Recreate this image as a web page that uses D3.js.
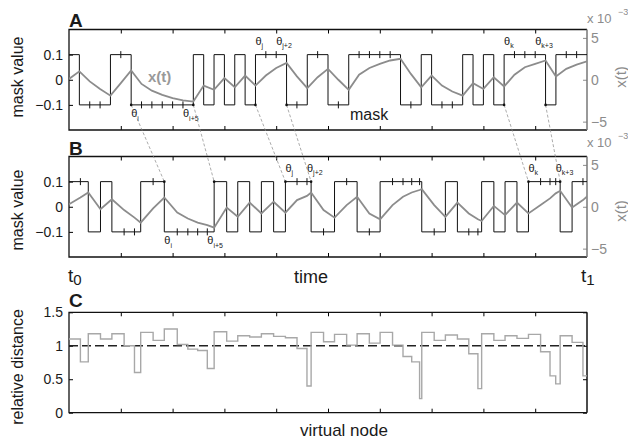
<!DOCTYPE html>
<html>
<head>
<meta charset="utf-8">
<script src="https://cdn.jsdelivr.net/npm/d3@7"></script>
<style>
body { margin: 0; background: #fff; }
text { font-family: "Liberation Sans", Arial, sans-serif; }
</style>
</head>
<body>
<div id="container"></div>
<script>
// mask values per virtual node, panel A (50 nodes)
let maskA = [0.1,-0.1,-0.1,-0.1,0.1,0.1,-0.1,-0.1,-0.1,-0.1,-0.1,-0.1,0.1,-0.1,0.1,-0.1,0.1,-0.1,0.1,0.1,
             0.1,-0.1,-0.1,0.1,0.1,-0.1,-0.1,0.1,0.1,0.1,0.1,0.1,-0.1,-0.1,0.1,-0.1,-0.1,-0.1,0.1,-0.1,
             0.1,-0.1,0.1,0.1,0.1,0.1,-0.1,0.1,0.1,0.1];
// x(t) at node boundaries, panel A (x 10^-3)
let xtA = [0.1,1.0,-0.2,-1.1,-1.9,-0.4,1.1,-0.5,-1.3,-1.8,-2.2,-2.45,-2.6,-0.7,-1.2,0.2,-0.9,0.5,-0.7,0.5,
           1.4,2.0,0.4,-1.0,0.3,1.3,0.0,-1.2,0.6,1.4,1.9,2.3,2.5,0.7,-0.9,0.5,-0.7,-1.4,-1.9,-0.4,
           -1.1,0.3,-0.8,0.6,1.5,1.9,2.3,0.4,1.3,1.8,2.2];
// mask values per virtual node, panel B (51 nodes, last one cut at t1)
let maskB = [0.1,0.1,-0.1,0.1,-0.1,-0.1,-0.1,0.1,0.1,-0.1,-0.1,-0.1,-0.1,-0.1,0.1,-0.1,0.1,-0.1,0.1,-0.1,
             0.1,0.1,0.1,-0.1,-0.1,0.1,0.1,-0.1,-0.1,0.1,0.1,0.1,0.1,0.1,-0.1,-0.1,0.1,-0.1,-0.1,-0.1,
             0.1,-0.1,0.1,-0.1,0.1,0.1,0.1,0.1,-0.1,0.1,0.1];
// x(t) at node boundaries, panel B (x 10^-3)
let xtB = [0.3,1.1,1.7,-0.3,0.9,-0.4,-1.3,-1.9,-0.2,1.1,-0.7,-1.4,-1.9,-2.2,-2.5,-0.1,-1.2,0.5,-0.8,0.6,
           -0.7,0.8,1.3,1.7,-0.4,-1.3,0.2,1.2,-0.8,-1.5,0.2,1.2,1.7,2.0,2.1,0.2,-1.2,0.5,-0.8,-1.5,
           -1.7,0.1,-1.0,0.5,-0.8,0.2,1.0,1.6,1.9,-0.1,0.8,1.4];
// relative distance per virtual node (panel C)
let relDist = [1.10,0.76,1.18,1.10,1.18,1.00,0.60,1.20,1.08,1.25,1.02,0.95,0.93,0.66,1.21,1.07,1.15,1.13,1.18,1.14,
               1.12,0.96,0.40,1.20,1.06,1.17,1.01,1.18,1.04,1.20,1.01,0.84,0.76,0.21,1.20,1.08,1.16,1.10,0.88,0.36,
               1.18,1.08,1.15,1.11,1.17,0.91,0.55,0.43,1.15,1.05,0.55];
// node boundaries joined by dashed lines (A index, B index)
let links = [[6,9],[12,14],[18,20],[21,23],[42,44],[46,48]];
let labelsA = [[6,"i","below"],[11,"i+5","below"],[18,"j","above"],[20,"j+2","above"],[42,"k","above"],[45,"k+3","above"]];
let labelsB = [[9,"i","below"],[13,"i+5","below"],[20,"j","above"],[22,"j+2","above"],[44,"k","above"],[47,"k+3","above"]];
let maskTicks = [-0.1,0,0.1];
let xtTicks = [-5,0,5];
let relTicks = [0,0.5,1,1.5];
let timeTicks = [5,10,15,20,25,30,35,40,45];

let w = 628;
let h = 443;
let gray = "#8c8c8c";

let svg = d3.select("#container")
  .append("svg")
    .attr("width", w)
    .attr("height", h);

let x = d3.scaleLinear().domain([0,50]).range([69,587]);

// B boundaries from the relative distances
let cumB = [0];
relDist.forEach(function(r){ cumB.push(cumB[cumB.length-1] + r); });

let fmt = function(d){ return d === 0 ? "0" : d3.format(".1f")(d); };

function frame(y0, y1, yScale, rightScale, id){
  let g = svg.append("g");
  let defs = svg.append("defs");
  defs.append("clipPath").attr("id", id)
    .append("rect").attr("x", x(0)).attr("y", y1).attr("width", x(50)-x(0)).attr("height", y0-y1);

  g.append("g").attr("transform","translate(0,"+y0+")")
    .call(d3.axisBottom(x).tickValues(timeTicks).tickSize(-4).tickFormat(""))
    .call(s => s.select(".domain").remove());
  g.append("g").attr("transform","translate(0,"+y1+")")
    .call(d3.axisTop(x).tickValues(timeTicks).tickSize(-4).tickFormat(""))
    .call(s => s.select(".domain").remove());

  let la = g.append("g").attr("transform","translate("+x(0)+",0)")
    .call(d3.axisLeft(yScale).tickValues(rightScale ? maskTicks : relTicks).tickSize(-4).tickPadding(6)
      .tickFormat(rightScale ? fmt : function(d){ return String(d); }))
    .call(s => s.select(".domain").remove());
  la.selectAll("text").attr("font-size",14).attr("fill","#1a1a1a").attr("font-family","Liberation Sans, Arial, sans-serif");

  if(rightScale){
    let ra = g.append("g").attr("transform","translate("+x(50)+",0)")
      .call(d3.axisRight(rightScale).tickValues(xtTicks).tickSize(-4).tickPadding(4).tickFormat(d3.format("d")))
      .call(s => s.select(".domain").remove());
    ra.selectAll("line").attr("stroke", gray);
    ra.selectAll("text").attr("font-size",14).attr("fill",gray).attr("font-family","Liberation Sans, Arial, sans-serif");
  } else {
    g.append("g").attr("transform","translate("+x(50)+",0)")
      .call(d3.axisRight(yScale).tickValues(relTicks).tickSize(-4).tickFormat(""))
      .call(s => s.select(".domain").remove());
  }

  g.append("path")
    .attr("d","M"+x(50)+","+y1+"H"+x(0)+"V"+y0+"H"+x(50))
    .attr("fill","none").attr("stroke","#111").attr("stroke-width",1.3);
  g.append("line")
    .attr("x1",x(50)).attr("x2",x(50)).attr("y1",y1).attr("y2",y0)
    .attr("stroke", rightScale ? "#777" : "#111").attr("stroke-width",1.5);
  return g;
}

function timePanel(mask, xt, pos, y0, y1, id, labels){
  let yM = d3.scaleLinear().domain([-0.2,0.2]).range([y0,y1]);
  let yX = d3.scaleLinear().domain([-6,6]).range([y0,y1]);
  frame(y0, y1, yM, yX, id);
  let g = svg.append("g").attr("clip-path","url(#"+id+")");

  let pts = mask.map(function(m,i){ return [pos[i], m]; });
  pts.push([pos[mask.length], mask[mask.length-1]]);
  g.append("path")
    .attr("d", d3.line().x(d => x(d[0])).y(d => yM(d[1])).curve(d3.curveStepAfter)(pts))
    .attr("fill","none").attr("stroke","#111").attr("stroke-width",1);

  // small ticks at boundaries without a change
  for(let i=1;i<mask.length;i++){
    if(mask[i] === mask[i-1]){
      g.append("line")
        .attr("x1",x(pos[i])).attr("x2",x(pos[i]))
        .attr("y1",yM(mask[i])-3.5).attr("y2",yM(mask[i])+3.5)
        .attr("stroke","#111").attr("stroke-width",1);
    }
  }

  g.append("path")
    .attr("d", d3.line().x((d,i) => x(pos[i])).y(d => yX(d))(xt))
    .attr("fill","none").attr("stroke",gray).attr("stroke-width",1.8);

  labels.forEach(function(l){
    let yy = l[2] === "above" ? yM(0.1) - 10 : yM(-0.1) + 12.5;
    let t = svg.append("text").attr("x", x(pos[l[0]])).attr("y", yy)
      .attr("font-size",11).attr("fill","#1a1a1a").text("θ");
    t.append("tspan").attr("font-size",7).attr("dy",3.5).text(l[1]);
  });
  return yM;
}

let posA = d3.range(0,51);
let yMA = timePanel(maskA, xtA, posA, 130, 29.5, "clipA", labelsA);
let yMB = timePanel(maskB, xtB, cumB, 257, 156.5, "clipB", labelsB);

// dashed links from A to B
links.forEach(function(l){
  svg.append("line")
    .attr("x1", x(posA[l[0]])).attr("y1", yMA(-0.1))
    .attr("x2", x(cumB[l[1]])).attr("y2", yMB(0.1))
    .attr("stroke","#888").attr("stroke-width",0.7).attr("stroke-dasharray","3,2");
  svg.append("circle").attr("cx", x(posA[l[0]])).attr("cy", yMA(-0.1)).attr("r",1.3).attr("fill","#111");
  svg.append("circle").attr("cx", x(cumB[l[1]])).attr("cy", yMB(0.1)).attr("r",1.3).attr("fill","#111");
});

// panel C
let yC = d3.scaleLinear().domain([0,1.5]).range([412.7,312.3]);
frame(412.7, 312.3, yC, null, "clipC");
let gC = svg.append("g").attr("clip-path","url(#clipC)");
gC.append("line")
  .attr("x1",x(0)).attr("x2",x(50)).attr("y1",yC(1)).attr("y2",yC(1))
  .attr("stroke","#222").attr("stroke-width",1.3).attr("stroke-dasharray","9,4");
let cPts = relDist.map(function(r,i){ return [cumB[i], r]; });
cPts.push([cumB[relDist.length], relDist[relDist.length-1]]);
gC.append("path")
  .attr("d", d3.line().x(d => x(d[0])).y(d => yC(d[1])).curve(d3.curveStepAfter)(cPts))
  .attr("fill","none").attr("stroke","#a8a8a8").attr("stroke-width",1.4);

// texts
function txt(xx, yy, s, size, opts){
  let t = svg.append("text").attr("x",xx).attr("y",yy).attr("font-size",size)
    .attr("fill", (opts && opts.fill) || "#1a1a1a").text(s);
  if(opts && opts.bold) t.attr("font-weight","bold");
  if(opts && opts.anchor) t.attr("text-anchor",opts.anchor);
  if(opts && opts.rot) t.attr("transform","rotate(-90,"+xx+","+yy+")");
  return t;
}

txt(69, 27, "A", 19, {bold:true});
txt(69, 154.5, "B", 19, {bold:true});
txt(69, 307, "C", 19, {bold:true});

txt(23, 77, "mask value", 16, {anchor:"middle", rot:true});
txt(23, 210, "mask value", 16, {anchor:"middle", rot:true});
txt(23, 367, "relative distance", 16, {anchor:"middle", rot:true});
txt(626, 77, "x(t)", 15, {anchor:"middle", rot:true, fill:gray});
txt(626, 211, "x(t)", 15, {anchor:"middle", rot:true, fill:gray});

txt(587, 23, "x 10", 13, {fill:gray});
txt(618, 15, "−3", 9, {fill:gray});
txt(587, 147, "x 10", 13, {fill:gray});
txt(618, 139, "−3", 9, {fill:gray});

txt(148, 82, "x(t)", 15, {bold:true, fill:"#999"});
txt(350, 120, "mask", 16);

txt(311, 283, "time", 18, {anchor:"middle"});
let t0 = txt(68, 282, "t", 19);
t0.append("tspan").attr("font-size",15).attr("dy",3).text("0");
let t1 = txt(581, 282, "t", 19);
t1.append("tspan").attr("font-size",15).attr("dy",3).text("1");

txt(344, 436, "virtual node", 17, {anchor:"middle"});
</script>
</body>
</html>
